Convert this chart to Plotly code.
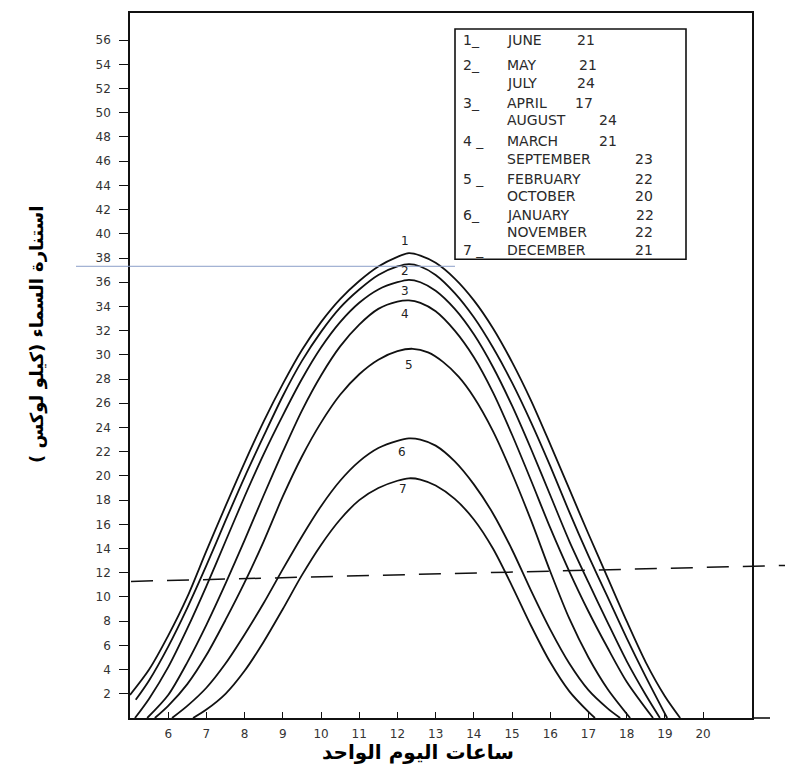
import plotly.graph_objects as go

# ---------------- data ----------------
hour_ticks = [6, 7, 8, 9, 10, 11, 12, 13, 14, 15, 16, 17, 18, 19, 20]
lux_ticks = list(range(2, 57, 2))

c1_x = [5.0, 5.5, 6.0, 6.5, 7.0, 7.5, 8.0, 8.5, 9.0, 9.5, 10.0, 10.5, 11.0, 11.5, 12.0, 12.3, 12.6, 13.0, 13.5, 14.0, 14.5, 15.0, 15.5, 16.0, 16.5, 17.0, 17.5, 18.0, 18.5, 19.0, 19.4]
c1_y = [1.9, 4.0, 6.8, 10.0, 13.8, 17.5, 21.1, 24.5, 27.6, 30.4, 32.7, 34.6, 36.1, 37.3, 38.1, 38.4, 38.2, 37.6, 36.3, 34.5, 32.2, 29.4, 26.2, 22.6, 18.9, 15.2, 11.6, 8.0, 4.6, 1.8, 0.0]

c2_x = [5.15, 5.5, 6.0, 6.5, 7.0, 7.5, 8.0, 8.5, 9.0, 9.5, 10.0, 10.5, 11.0, 11.5, 12.0, 12.3, 12.6, 13.0, 13.5, 14.0, 14.5, 15.0, 15.5, 16.0, 16.5, 17.0, 17.5, 18.0, 18.5, 19.06]
c2_y = [1.5, 3.1, 5.9, 9.1, 12.6, 16.3, 19.9, 23.3, 26.6, 29.5, 31.9, 33.9, 35.4, 36.6, 37.3, 37.5, 37.3, 36.6, 35.1, 33.1, 30.6, 27.7, 24.4, 20.8, 17.0, 13.4, 10.0, 6.6, 3.4, 0.0]

c3_x = [5.13, 5.5, 6.0, 6.5, 7.0, 7.5, 8.0, 8.5, 9.0, 9.5, 10.0, 10.5, 11.0, 11.5, 12.0, 12.3, 12.6, 13.0, 13.5, 14.0, 14.5, 15.0, 15.5, 16.0, 16.5, 17.0, 17.5, 18.0, 18.5, 18.87]
c3_y = [0.0, 1.6, 4.2, 7.4, 10.9, 14.6, 18.3, 21.8, 25.0, 28.0, 30.6, 32.7, 34.3, 35.4, 36.0, 36.2, 36.0, 35.3, 33.8, 31.7, 29.0, 25.8, 22.2, 18.4, 14.6, 11.2, 7.9, 4.7, 1.9, 0.0]

c4_x = [5.45, 6.0, 6.5, 7.0, 7.5, 8.0, 8.5, 9.0, 9.5, 10.0, 10.5, 11.0, 11.5, 12.0, 12.3, 12.6, 13.0, 13.5, 14.0, 14.5, 15.0, 15.5, 16.0, 16.5, 17.0, 17.5, 18.0, 18.69]
c4_y = [0.0, 1.9, 4.6, 7.7, 11.1, 14.7, 18.4, 22.0, 25.4, 28.3, 30.7, 32.5, 33.8, 34.4, 34.5, 34.3, 33.6, 32.0, 29.8, 26.9, 23.4, 19.6, 15.7, 12.1, 8.8, 5.8, 3.0, 0.0]

c5_x = [5.65, 6.0, 6.5, 7.0, 7.5, 8.0, 8.5, 9.0, 9.5, 10.0, 10.5, 11.0, 11.5, 12.0, 12.4, 12.8, 13.2, 13.6, 14.0, 14.5, 15.0, 15.5, 16.0, 16.5, 17.0, 17.5, 18.09]
c5_y = [0.0, 1.0, 2.8, 5.2, 8.1, 11.2, 14.6, 18.3, 21.6, 24.4, 26.7, 28.4, 29.6, 30.3, 30.5, 30.2, 29.4, 28.2, 26.5, 23.7, 20.2, 16.3, 12.1, 8.2, 5.0, 2.4, 0.0]

c6_x = [6.1, 6.5, 7.0, 7.5, 8.0, 8.5, 9.0, 9.5, 10.0, 10.5, 11.0, 11.5, 12.0, 12.3, 12.6, 13.0, 13.5, 14.0, 14.5, 15.0, 15.5, 16.0, 16.5, 17.0, 17.5, 17.83]
c6_y = [0.0, 1.0, 2.5, 4.5, 6.9, 9.5, 12.3, 15.0, 17.5, 19.6, 21.2, 22.3, 22.9, 23.1, 23.0, 22.5, 21.2, 19.3, 16.9, 13.9, 10.5, 7.3, 4.5, 2.3, 0.8, 0.0]

c7_x = [6.65, 7.0, 7.5, 8.0, 8.5, 9.0, 9.5, 10.0, 10.5, 11.0, 11.5, 12.0, 12.3, 12.6, 13.0, 13.5, 14.0, 14.5, 15.0, 15.5, 16.0, 16.5, 17.0, 17.17]
c7_y = [0.0, 0.7, 2.0, 3.9, 6.3, 9.0, 11.8, 14.3, 16.4, 18.0, 19.0, 19.6, 19.8, 19.7, 19.2, 18.1, 16.4, 14.0, 10.9, 7.6, 4.6, 2.2, 0.5, 0.0]

curve_names = ["1", "2", "3", "4", "5", "6", "7"]
curve_label_x = [12.2, 12.2, 12.2, 12.2, 12.3, 12.12, 12.15]
curve_label_y = [39.4, 36.9, 35.3, 33.4, 29.2, 22.0, 18.9]

legend_num = ["1_", "2_", "", "3_", "", "4 _", "", "5 _", "", "6_", "", "7 _"]
legend_month = ["JUNE", "MAY", "JULY", "APRIL", "AUGUST", "MARCH", "SEPTEMBER",
                "FEBRUARY", "OCTOBER", "JANUARY", "NOVEMBER", "DECEMBER"]
legend_day = ["21", "21", "24", "17", "24", "21", "23", "22", "20", "22", "22", "21"]

x_title = "ساعات اليوم الواحد"
y_title = "استنارة السماء (كيلو لوكس )"

# ---------------- layout constants ----------------
W, H = 785, 774
L, R, T, B = 130, 33, 11, 56
PW, PH = W - L - R, H - T - B
XR = [5, 21.28]
YR = [0, 58.24]


def px_x(p):
    return (p - L) / PW


def px_y(p):
    return (H - B - p) / PH


fig = go.Figure()
curves = [(c1_x, c1_y), (c2_x, c2_y), (c3_x, c3_y), (c4_x, c4_y),
          (c5_x, c5_y), (c6_x, c6_y), (c7_x, c7_y)]
for (cx, cy), nm in zip(curves, curve_names):
    fig.add_trace(go.Scatter(x=cx, y=cy, mode="lines", name=nm,
                             line=dict(color="#111", width=1.8, shape="spline", smoothing=0.8),
                             showlegend=False, hoverinfo="skip"))

# curve numbers
for nm, lx, ly in zip(curve_names, curve_label_x, curve_label_y):
    fig.add_annotation(x=lx, y=ly, text=nm, showarrow=False, xref="x", yref="y",
                       xanchor="center", yanchor="middle",
                       font=dict(family="DejaVu Sans", size=12, color="#222"))

# legend box
fig.add_shape(type="rect", xref="paper", yref="paper",
              x0=px_x(455), x1=px_x(686), y0=px_y(258), y1=px_y(27),
              line=dict(color="#111", width=1.6), fillcolor="white", layer="above")

row_y = [38, 63, 81, 101, 118, 139, 157, 177, 195, 214, 231, 249]
day_x = [575, 577, 575, 573, 597, 597, 633, 633, 633, 634, 633, 633]
lfont = dict(family="DejaVu Sans", size=14, color="#2a2a2a")
for i in range(len(legend_month)):
    yy = px_y(row_y[i])
    if legend_num[i]:
        fig.add_annotation(x=px_x(461), y=yy, text=legend_num[i], showarrow=False,
                           xref="paper", yref="paper", xanchor="left", yanchor="middle", font=lfont)
    fig.add_annotation(x=px_x(505), y=yy, text=legend_month[i], showarrow=False,
                       xref="paper", yref="paper", xanchor="left", yanchor="middle", font=lfont)
    fig.add_annotation(x=px_x(day_x[i]), y=yy, text=legend_day[i], showarrow=False,
                       xref="paper", yref="paper", xanchor="left", yanchor="middle", font=lfont)

# thin blue reference line
fig.add_shape(type="line", xref="paper", yref="paper",
              x0=px_x(76), x1=px_x(455), y0=px_y(265), y1=px_y(265),
              line=dict(color="#8c9fc8", width=1))

# dashed line
fig.add_shape(type="line", xref="paper", yref="paper",
              x0=px_x(131), x1=px_x(785), y0=px_y(581), y1=px_y(565),
              line=dict(color="#111", width=1.5, dash="22px,14px"))

# bottom axis extension
fig.add_shape(type="line", xref="paper", yref="paper",
              x0=1.0, x1=px_x(770), y0=0, y1=0,
              line=dict(color="#111", width=1.6))

# axis titles
fig.add_annotation(x=px_x(418), y=px_y(752), text="<b>" + x_title + "</b>", showarrow=False,
                   xref="paper", yref="paper", xanchor="center", yanchor="middle",
                   font=dict(family="DejaVu Sans", size=20, color="#000"))
fig.add_annotation(x=px_x(37), y=px_y(333), text="<b>" + y_title + "</b>", showarrow=False,
                   xref="paper", yref="paper", textangle=-90, xanchor="center", yanchor="middle",
                   font=dict(family="DejaVu Sans", size=18, color="#000"))

fig.update_layout(
    width=W, height=H,
    margin=dict(l=L, r=R, t=T, b=B),
    paper_bgcolor="white", plot_bgcolor="white",
    showlegend=False,
    xaxis=dict(range=XR, tickvals=hour_ticks, ticktext=[str(v) for v in hour_ticks],
               ticks="inside", ticklen=6, tickwidth=1.3, tickcolor="#111",
               showline=True, linecolor="#111", linewidth=1.6, mirror=True,
               showgrid=False, zeroline=False, ticklabelstandoff=4,
               tickfont=dict(family="DejaVu Sans", size=12, color="#333")),
    yaxis=dict(range=YR, tickvals=lux_ticks, ticktext=[str(v) for v in lux_ticks],
               ticks="outside", ticklen=9, tickwidth=1.3, tickcolor="#111",
               showline=True, linecolor="#111", linewidth=1.6, mirror=True,
               showgrid=False, zeroline=False, ticklabelstandoff=6,
               tickfont=dict(family="DejaVu Sans", size=12, color="#333")),
)

fig.write_html("out.html")
